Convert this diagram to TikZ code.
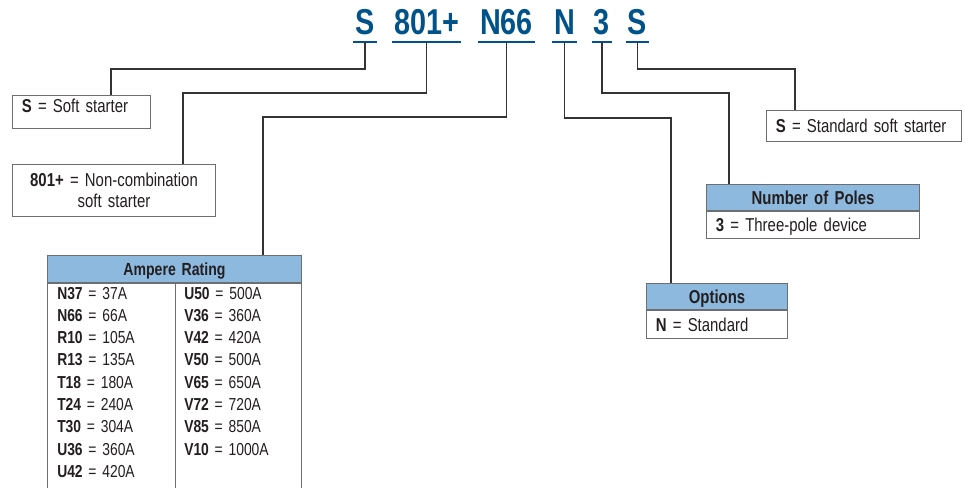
\documentclass[tikz,border=0pt]{standalone}
\usepackage{fontspec}
\setmainfont{Liberation Sans}[FakeStretch=0.8,WordSpace=0.75]
\usetikzlibrary{positioning}
\definecolor{codeblue}{RGB}{0,83,138}
\definecolor{hdrblue}{RGB}{141,185,222}
\definecolor{linegray}{RGB}{51,51,51}
\definecolor{boxgray}{RGB}{109,110,113}
\definecolor{txt}{RGB}{35,31,32}
\tikzset{
  code/.style={font=\fontsize{27}{30}\selectfont\bfseries, text=codeblue, inner sep=0pt, anchor=base},
  uline/.style={codeblue, line width=2pt},
  conn/.style={linegray, line width=1.1pt},
  box/.style={draw=boxgray, line width=0.75pt, anchor=north west, inner xsep=7pt, inner ysep=0pt,
    align=left, font=\fontsize{14}{15.5}\selectfont, text=txt},
  oneline/.style={box, text height=9.8pt, text depth=0pt},
  hdr/.style={oneline, fill=hdrblue, align=center, font=\fontsize{14}{15.5}\selectfont\bfseries},
  row/.style={anchor=base west, inner sep=0pt, font=\fontsize{13}{14}\selectfont, text=txt},
}

\begin{document}
\begin{tikzpicture}[x=0.75pt,y=-0.75pt]
  \path[use as bounding box, fill=white] (0,0) rectangle (965,487);
  \clip (0,0) rectangle (965,487);

  % catalogue code
  \node[code] (cS) at (365,34) {S};
  \node[code] (c801) at (426.5,34) {801+};
  \node[code] (cN66) at (506.5,34) {N66};
  \node[code] (cN) at (564.5,34) {N};
  \node[code] (c3) at (602,34) {3};
  \node[code] (cS2) at (637.5,34) {S};
  \foreach \c in {cS,c801,cN66,cN,c3,cS2}
    \draw[uline] ([xshift=-1.5pt,yshift=-6pt]\c.base west) -- ([xshift=1.5pt,yshift=-6pt]\c.base east);

  % left side
  \node[oneline, text width=89.5pt, minimum height=24.75pt, text depth=8.6pt] (bS) at (12,95) {\textbf{S} = Soft starter};
  \node[box, align=center, text width=138.25pt, minimum height=39pt] (b801) at (12,164)
    {\textbf{801+} = Non-combination\\soft starter};

  \node[hdr, text width=176.5pt, minimum height=20.25pt, font=\fontsize{13.2}{15}\selectfont\bfseries] (hA) at (47,255) {Ampere Rating};
  \node[box, below=0pt of hA, text width=176.5pt, minimum height=170pt] (bA) {};
  \draw[draw=boxgray, line width=0.75pt] ([xshift=96pt]bA.north west) -- ([xshift=96pt]bA.south west);
  \foreach \k/\v [count=\i from 0] in {N37/37A,N66/66A,R10/105A,R13/135A,T18/180A,T24/240A,T30/304A,U36/360A,U42/420A}
    \node[row] (l\i) at (57,299+22.3*\i) {\textbf{\k} \,=\, \v};
  \foreach \k/\v [count=\i from 0] in {U50/500A,V36/360A,V42/420A,V50/500A,V65/650A,V72/720A,V85/850A,V10/1000A}
    \node[row] (r\i) at (184,299+22.3*\i) {\textbf{\k} \,=\, \v};

  % right side
  \node[oneline, text width=132.25pt, minimum height=23.25pt] (bStd) at (766,110) {\textbf{S} = Standard soft starter};

  \node[hdr, text width=145.75pt, minimum height=19.5pt] (hP) at (706,184) {Number of Poles};
  \node[oneline, below=0pt of hP, text width=145.75pt, minimum height=20.25pt] (bP) {\textbf{3} = Three-pole device};

  \node[hdr, text width=91.75pt, minimum height=19.5pt] (hO) at (646,283) {Options};
  \node[oneline, below=0pt of hO, text width=91.75pt, minimum height=21pt] (bO) {\textbf{N} = Standard};

  % connectors
  \draw[conn] ([yshift=-6pt]cS.base) -- ++(0,27) -| ([xshift=74.25pt]bS.north west);
  \draw[conn] ([yshift=-6pt]c801.base) -- ++(0,51) -| ([xshift=128.25pt]b801.north west);
  \draw[conn] ([yshift=-6pt]cN66.base) -- ++(0,75) -| ([xshift=162pt]hA.north west);
  \draw[conn] ([yshift=-6pt]cN.base) -- ++(0,76) -| ([xshift=18.75pt]hO.north west);
  \draw[conn] ([yshift=-6pt]c3.base) -- ++(0,51) -| ([xshift=17.25pt]hP.north west);
  \draw[conn] ([yshift=-6pt]cS2.base) -- ++(0,27) -| ([xshift=21.75pt]bStd.north west);
\end{tikzpicture}
\end{document}
